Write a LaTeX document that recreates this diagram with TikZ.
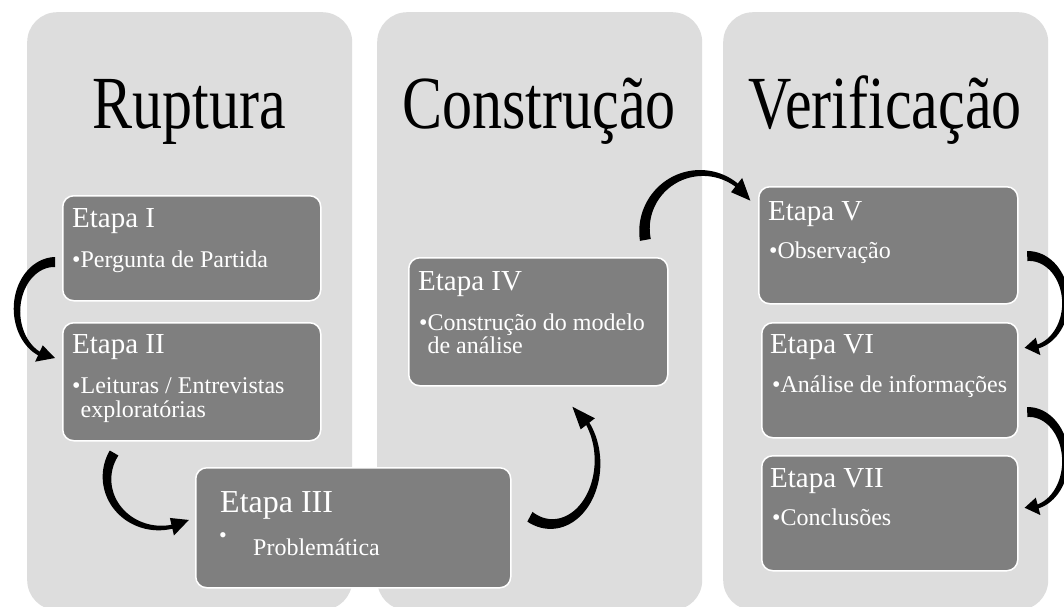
\documentclass[tikz,border=0pt]{standalone}
\usepackage{fontspec}
\setmainfont{Liberation Serif}
\usetikzlibrary{calc}
\definecolor{colbg}{RGB}{221,221,221}
\definecolor{boxbg}{RGB}{127,127,127}
% tapered curved arrow along an ellipse around a named centre
% #1 centre, #2 Rx, #3 Ry, #4 start angle, #5 end angle, #6 tip angle, #7 tail width, #8 end width, #9 head half-width
\newcommand{\curvarrow}[9]{%
\begin{scope}[shift={(#1)}]
\fill[arrowfill] plot[domain=#4:#5,samples=50,variable=\t]
   ({(#2+0.5*(#7+(#8-#7)*(\t-(#4))/((#5)-(#4))))*cos(\t)},{(#3+0.5*(#7+(#8-#7)*(\t-(#4))/((#5)-(#4))))*sin(\t)})
 -- ({(#2+#9)*cos(#5)},{(#3+#9)*sin(#5)})
 -- ({#2*cos(#6)},{#3*sin(#6)})
 -- ({(#2-#9)*cos(#5)},{(#3-#9)*sin(#5)})
 -- plot[domain=#5:#4,samples=50,variable=\t]
   ({(#2-0.5*(#7+(#8-#7)*(\t-(#4))/((#5)-(#4))))*cos(\t)},{(#3-0.5*(#7+(#8-#7)*(\t-(#4))/((#5)-(#4))))*sin(\t)})
 -- cycle;
\end{scope}}
\begin{document}
\begin{tikzpicture}[x=1pt,y=-1pt,
  colbox/.style={rectangle,rounded corners=30pt,fill=colbg,draw=none,inner sep=0pt,anchor=north west},
  stepbox/.style={rectangle,rounded corners=11pt,fill=boxbg,draw=white,line width=1.5pt,inner sep=0pt,anchor=north west},
  coltitle/.style={text=black,font=\fontsize{75}{80}\selectfont,anchor=base,inner sep=0pt},
  headtxt/.style={text=white,font=\fontsize{29}{31}\selectfont,anchor=base west,inner sep=0pt},
  bigheadtxt/.style={text=white,font=\fontsize{32}{34}\selectfont,anchor=base west,inner sep=0pt},
  bultxt/.style={text=white,font=\fontsize{24}{26}\selectfont,anchor=base west,inner sep=0pt},
  arrowfill/.style={fill=black}]
\useasboundingbox (0,0) rectangle (1064,606);
\fill[white] (0,0) rectangle (1064,606);

% columns
\node[colbox,minimum width=325pt,minimum height=598pt] (col1) at (27,12) {};
\node[colbox,minimum width=325pt,minimum height=598pt] (col2) at (377,12) {};
\node[colbox,minimum width=325pt,minimum height=598pt] (col3) at (723,12) {};

% titles
\node[coltitle] (t1) at (189.5,128) {\scalebox{0.8}[1]{Ruptura}};
\node[coltitle] (t2) at (539,128) {\scalebox{0.8}[1]{Construção}};
\node[coltitle] (t3) at (885,128) {\scalebox{0.8}[1]{Verificação}};

% step boxes
\node[stepbox,minimum width=258pt,minimum height=105pt] (e1) at (62,195) {};
\node[stepbox,minimum width=258pt,minimum height=118pt] (e2) at (62,322) {};
\node[stepbox,minimum width=315pt,minimum height=120pt] (e3) at (195,467) {};
\node[stepbox,minimum width=259pt,minimum height=128pt] (e4) at (408,257) {};
\node[stepbox,minimum width=259pt,minimum height=117pt] (e5) at (758,186) {};
\node[stepbox,minimum width=256pt,minimum height=115pt] (e6) at (761,322) {};
\node[stepbox,minimum width=256pt,minimum height=115pt] (e7) at (761,455) {};

% texts
\node[headtxt] (e1h) at ($(e1.north west)+(10,32)$) {Etapa I};
\node[bultxt]  (e1b) at ($(e1.north west)+(10,72)$) {•Pergunta de Partida};

\node[headtxt] (e2h) at ($(e2.north west)+(10,31)$) {Etapa II};
\node[bultxt]  (e2b) at ($(e2.north west)+(10,71)$) {•Leituras / Entrevistas};
\node[bultxt]  (e2c) at ($(e2.north west)+(10,95)$) {\hphantom{•}exploratórias};

\node[bigheadtxt] (e3h) at ($(e3.north west)+(25,45)$) {Etapa III};
\node[text=white,font=\fontsize{22}{24}\selectfont,anchor=base west,inner sep=0pt] (e3b) at ($(e3.north west)+(24,75)$) {•};
\node[text=white,font=\fontsize{24}{26}\selectfont,anchor=base west,inner sep=0pt] (e3c) at ($(e3.north west)+(58,88)$) {Problemática};

\node[headtxt] (e4h) at ($(e4.north west)+(10,33)$) {Etapa IV};
\node[bultxt]  (e4b) at ($(e4.north west)+(11,73)$) {•Construção do modelo};
\node[bultxt]  (e4c) at ($(e4.north west)+(11,96)$) {\hphantom{•}de análise};

\node[headtxt] (e5h) at ($(e5.north west)+(10,34)$) {Etapa V};
\node[bultxt]  (e5b) at ($(e5.north west)+(11,72)$) {•Observação};

\node[headtxt] (e6h) at ($(e6.north west)+(9,31)$) {Etapa VI};
\node[bultxt]  (e6b) at ($(e6.north west)+(11,70)$) {•Análise de informações};

\node[headtxt] (e7h) at ($(e7.north west)+(9,32)$) {Etapa VII};
\node[bultxt]  (e7b) at ($(e7.north west)+(11,70)$) {•Conclusões};

% arrow centres (placed relative to the boxes they join)
\coordinate (c12) at ($(e1.north west)+(-7,115)$);
\coordinate (c23) at ($(e3.north west)+(-35,11)$);
\coordinate (c34) at ($(e3.north east)+(40,-5)$);
\coordinate (c45) at ($(e4.north east)+(33,-27)$);
\coordinate (c56) at ($(e5.north east)+(10,116)$);
\coordinate (c67) at ($(e6.north east)+(10,138)$);

% curved arrows
\curvarrow{c12}{38}{48}{-90}{-245}{-270}{10}{4}{9}
\curvarrow{c23}{53}{50}{-150}{-283}{-303}{10}{4}{9}
\curvarrow{c34}{46}{62}{118}{-38}{-63}{11}{4}{9}
\curvarrow{c45}{57}{57}{170}{308}{329}{11}{4}{9}
\curvarrow{c56}{37}{46}{-92}{75}{96}{10}{4}{9}
\curvarrow{c67}{37}{48}{-92}{75}{96}{10}{4}{9}
\end{tikzpicture}
\end{document}
